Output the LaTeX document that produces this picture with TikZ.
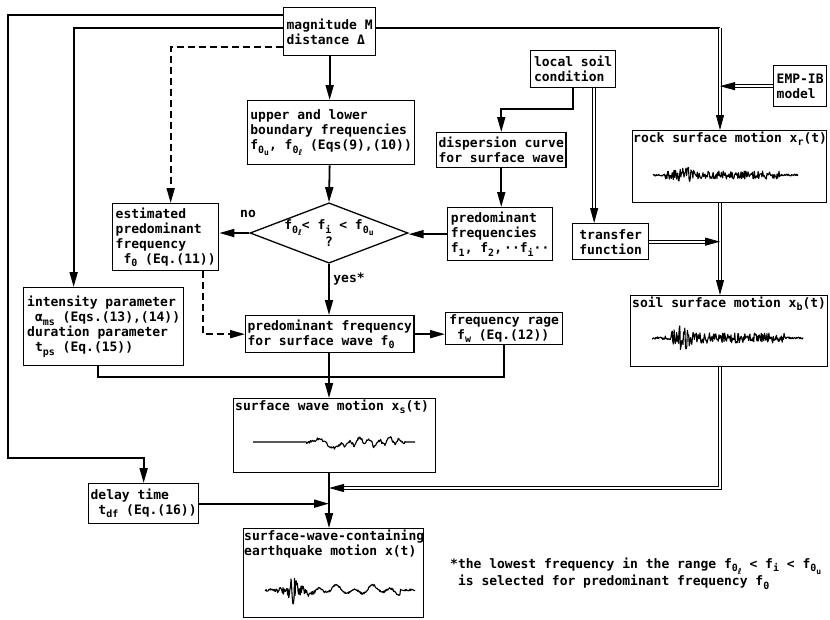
\documentclass[tikz,border=0pt]{standalone}
\usepackage{fontspec}
\setmainfont{DejaVu Sans Mono}
\newfontfamily\symfont{DejaVu Sans}
\usetikzlibrary{arrows.meta,positioning,calc,shapes.geometric}
\tikzset{
  % plain text boxes, placed by their top-left corner
  blk/.style={draw, line width=1.3pt, align=left, inner sep=2pt, anchor=north west},
  % decision diamond
  dia/.style={draw, line width=1.3pt, shape=diamond, aspect=2.6, inner sep=0pt, align=center},
  % box titles and loose labels
  lbl/.style={inner sep=2pt, anchor=north west, align=left},
  % connectors
  conn/.style={line width=1.8pt},
  arr/.style={conn, -{Triangle[length=15pt,width=8pt]}},
  dashconn/.style={arr, dash pattern=on 7pt off 4pt},
  % double lines of the ground-motion branch
  dbl/.style={double, double distance=2pt, line width=0.9pt},
  dblarr/.style={dbl, -{Triangle[length=15pt,width=8pt]}},
  % recorded traces
  wave/.style={line width=1.1pt, line join=round},
}
\newcommand{\fsub}[1]{\raisebox{-0.45ex}{\fontsize{10}{10}\selectfont #1}}
\newcommand{\fsubsub}[1]{\raisebox{-0.4ex}{\fontsize{8}{8}\selectfont #1}}
\newcommand{\lsc}{{\symfont\bfseries ℓ}}

\begin{document}
\begin{tikzpicture}[x=1pt, y=-1pt, font=\fontsize{13}{15}\selectfont\bfseries]
    \useasboundingbox (0,0) rectangle (830,619);
    % left / centre column
    \node[blk, minimum width=92pt, minimum height=48pt] (mag) at (283,7) {magnitude M\\distance Δ};
    \node[blk, minimum width=167pt, minimum height=64pt] (upper) at (247,100)
      {upper and lower\\boundary frequencies\\f\fsub{0\fsubsub{u}}, f\fsub{0\fsubsub{\lsc}} (Eqs(9),(10))};
    \node[dia, minimum width=158pt, minimum height=60pt] (dec) at (329,233)
      {f\fsub{0\fsubsub{\lsc}}< f\fsub{i} < f\fsub{0\fsubsub{u}}\\?};
    \node[blk, minimum width=106pt, minimum height=67pt] (est) at (112,203)
      {estimated\\predominant\\frequency\\~f\fsub{0} (Eq.(11))};
    \node[blk, minimum width=160pt, minimum height=78pt] (int) at (23,287)
      {intensity parameter\\~α\fsub{ms} (Eqs.(13),(14))\\duration parameter\\~t\fsub{ps} (Eq.(15))};
    \node[blk, minimum width=167pt, minimum height=37pt] (pf) at (245,315)
      {predominant frequency\\for surface wave f\fsub{0}};
    \node[blk, minimum width=117pt, minimum height=32pt] (fr) at (445,312)
      {frequency rage\\~f\fsub{w} (Eq.(12))};
    \node[blk, minimum width=110pt, minimum height=40pt] (delay) at (88,483)
      {delay time\\~t\fsub{df} (Eq.(16))};
    \node[blk, minimum width=202pt, minimum height=74pt] (sw) at (233,398) {};
    \node[lbl] (swlbl) at (sw.north west) {surface wave motion x\fsub{s}(t)};
    \node[blk, minimum width=180pt, minimum height=89pt] (final) at (243,528) {};
    \node[lbl, inner xsep=1pt] (finallbl) at (final.north west) {surface-wave-containing\\earthquake motion x(t)};
    % right column
    \node[blk, minimum width=85pt, minimum height=37pt] (local) at (530,50) {local soil\\condition};
    \node[blk, minimum width=128pt, minimum height=35pt] (disp) at (436,132)
      {dispersion curve\\for surface wave};
    \node[blk, minimum width=105pt, minimum height=53pt] (pfq) at (447,207)
      {predominant\\frequencies\\f\fsub{1}, f\fsub{2},\,··f\fsub{i}··};
    \node[blk, minimum width=76pt, minimum height=36pt] (tf) at (572,223) {transfer\\function};
    \node[blk, minimum width=53pt, minimum height=41pt] (emp) at (773,65) {EMP-IB\\model};
    \node[blk, minimum width=194pt, minimum height=72pt] (rock) at (632,130) {};
    \node[lbl, inner xsep=1pt] (rocklbl) at (rock.north west) {rock surface motion x\fsub{r}(t)};
    \node[blk, minimum width=197pt, minimum height=71pt] (soil) at (630,295) {};
    \node[lbl] (soillbl) at (soil.north west) {soil surface motion x\fsub{b}(t)};
    % labels and footnote
    \node (nolbl) at (248,214) {no};
    \node (yeslbl) at (349,279) {yes*};
    \node[lbl] (note) at (448,556)
      {*the lowest frequency in the range f\fsub{0\fsubsub{\lsc}} < f\fsub{i} < f\fsub{0\fsubsub{u}}\\~is selected for predominant frequency f\fsub{0}};
    % corners and junctions
    \coordinate (c1) at (8,458);
    \coordinate (rc) at (720,28);
    \coordinate (jn1) at (329,377);
    \coordinate (jn2) at (329,488);
    % lines out of magnitude / distance
    \draw[arr] ([yshift=-8pt]mag.north west) -| (c1) -| (delay.north);
    \draw[arr] ([yshift=-21pt]mag.north west) -| ([xshift=-30pt]int.north);
    \draw[dashconn] ([yshift=-40pt]mag.north west) -| ([xshift=5pt]est.north);
    \draw[conn] ([yshift=-21pt]mag.north east) -- (rc);
    \draw[arr] (mag.south) -- (mag.south |- upper.north);
    % centre column
    \draw[arr] (mag.south |- upper.south) -- (dec.north);
    \draw[arr] (dec.west) -- (dec.west -| est.east);
    \draw[dashconn] ([xshift=37pt]est.south) |- (pf.west);
    \draw[arr] (dec.south) -- (dec.south |- pf.north);
    \draw[arr] (pf.east) -- (pf.east -| fr.west);
    \draw[conn] ([xshift=-6pt]int.south) |- (jn1);
    \draw[conn] (fr.south) |- (jn1);
    \draw[arr] (dec.south |- pf.south) -- (dec.south |- sw.north);
    \draw[arr] (dec.south |- sw.south) -- (dec.south |- final.north);
    \draw[arr] (delay.east) -- (delay.east -| dec.south);
    % soil branch
    \draw[arr] (local.south) -- ++(0,21) -| (disp.north);
    \draw[arr] (disp.south) -- (disp.south |- pfq.north);
    \draw[arr] (pfq.west) -- (pfq.west -| dec.east);
    \draw[dblarr] ([xshift=21pt]local.south) -- ([xshift=21pt]local.south |- tf.north);
    % ground-motion branch
    \draw[dblarr] (rc) -- (rc |- rock.north);
    \draw[dblarr] (emp.west) -- (emp.west -| rc);
    \draw[dblarr] (rc |- rock.south) -- (rc |- soil.north);
    \draw[dblarr] (tf.east) -- (tf.east -| rc);
    \draw[dblarr] (rc |- soil.south) |- (jn2);
    % traces
    \pgfmathsetseed{7}
    \draw[wave] plot[domain=653:798, samples=230]
      (\x, {175 + (1 + 3*(\x>665)*(\x<780) + 9*exp(-abs(\x-685)/4))*rand});
    \draw[wave] plot[domain=652:803, samples=240]
      (\x, {338 + (1 + 4*(\x>670)*(\x<785) + 15*exp(-abs(\x-681)/6))*rand});
    \draw[wave] plot[domain=253:415, samples=260]
      (\x, {442 + 6*exp(-((\x-333)/7)*((\x-333)/7)) - 4*exp(-((\x-320)/5)*((\x-320)/5))
        + (\x>342)*(\x<400)*(3*sin((\x-342)*36) + 2*sin((\x-342)*13)) + 1.6*rand*(\x>305)*(\x<405)});
    \draw[wave] plot[domain=265:415, samples=260]
      (\x, {590 + (1 + 15*exp(-abs(\x-293)/7))*rand + (\x>305)*(\x<400)*(3*sin((\x-305)*20) + 2*sin((\x-305)*9))});
\end{tikzpicture}
\end{document}
